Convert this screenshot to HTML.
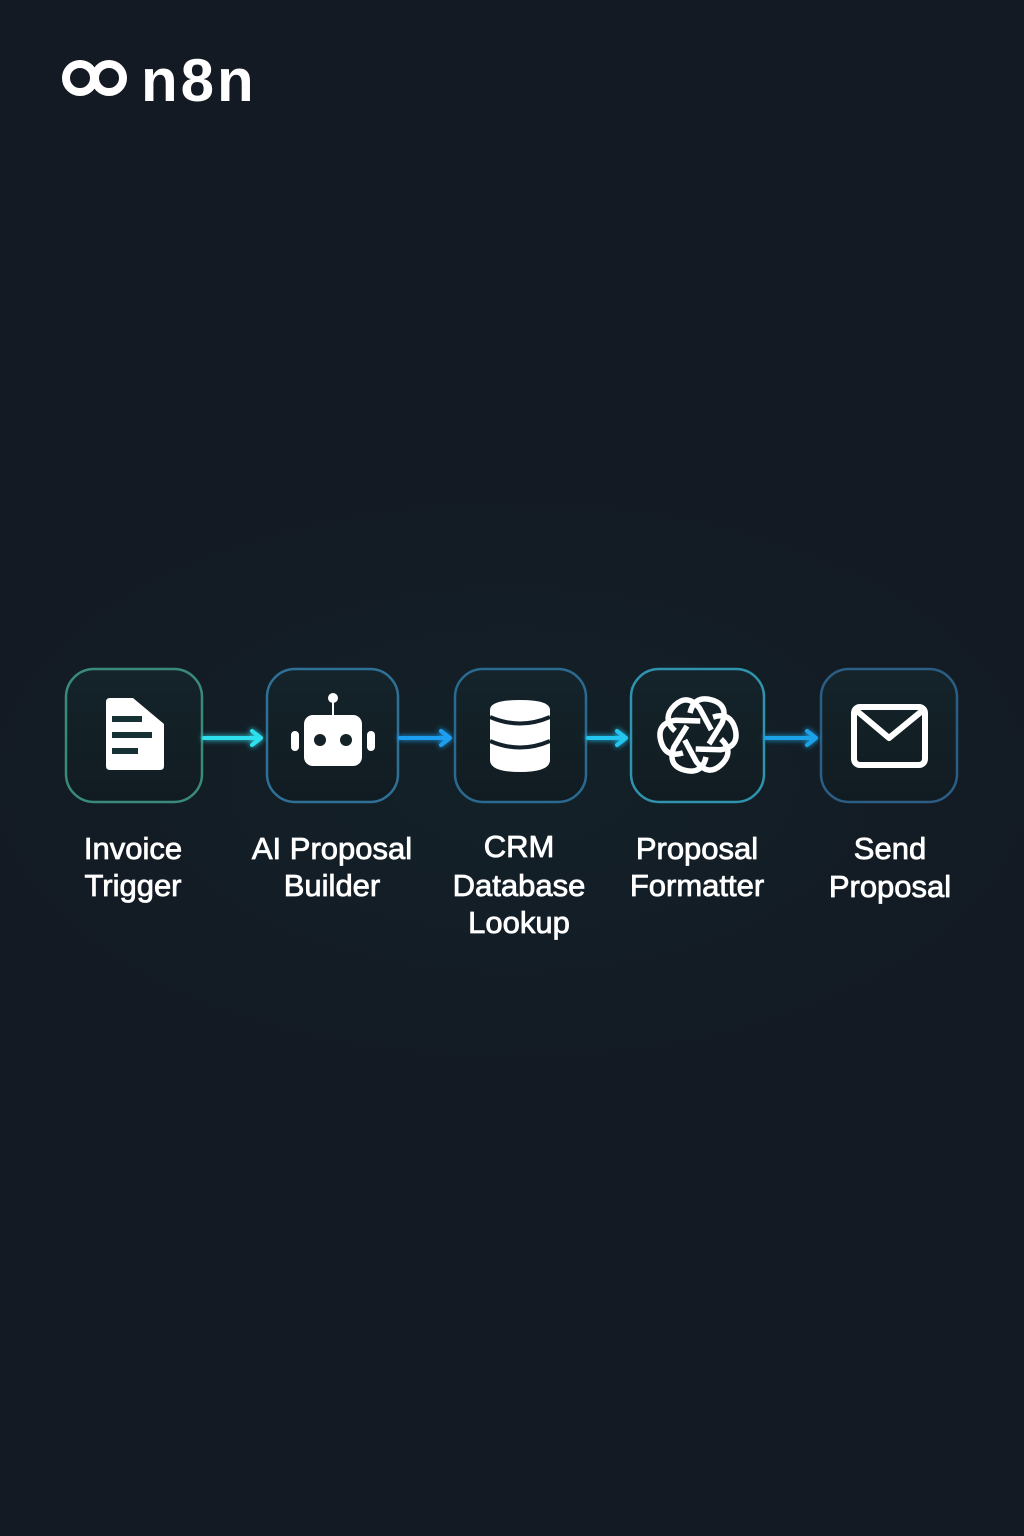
<!DOCTYPE html>
<html><head><meta charset="utf-8"><style>
html,body{margin:0;padding:0;background:#131a23;}
svg{display:block}
</style></head><body>
<svg width="1024" height="1536" viewBox="0 0 1024 1536" xmlns="http://www.w3.org/2000/svg">
<defs>
<radialGradient id="bg" cx="0.5" cy="0.5" r="0.5">
<stop offset="0" stop-color="#132128"/><stop offset="1" stop-color="#131a23"/>
</radialGradient>
<linearGradient id="box" x1="0" y1="0" x2="0" y2="1"><stop offset="0" stop-color="#14242a"/><stop offset="1" stop-color="#111c22"/></linearGradient>
<filter id="glow" x="-50%" y="-50%" width="200%" height="200%"><feGaussianBlur stdDeviation="3" result="b"/><feMerge><feMergeNode in="b"/><feMergeNode in="SourceGraphic"/></feMerge></filter>
</defs>
<rect width="1024" height="1536" fill="#131a23"/>
<ellipse cx="512" cy="780" rx="560" ry="300" fill="url(#bg)"/>

<!-- logo -->
<g fill="none" stroke="#fff" stroke-width="8">
<circle cx="80" cy="78" r="14"/><circle cx="109" cy="78" r="14"/>
</g>
<text x="141" y="101" font-family="Liberation Sans, sans-serif" font-weight="bold" font-size="60" letter-spacing="3" fill="#fff">n8n</text>

<!-- boxes -->
<g stroke-width="2.5" fill="url(#box)">
<rect x="66" y="669" width="136" height="133" rx="28" stroke="#3a8a79"/>
<rect x="267" y="669" width="131" height="133" rx="28" stroke="#2f7096"/>
<rect x="455" y="669" width="131" height="133" rx="28" stroke="#2b6a90"/>
<rect x="631" y="669" width="133" height="133" rx="28" stroke="#2f93ad"/>
<rect x="821" y="669" width="136" height="133" rx="28" stroke="#2c5e85"/>
</g>

<!-- arrows -->
<g filter="url(#glow)" stroke-width="4" fill="none" stroke-linecap="round" stroke-linejoin="round">
<g stroke="#2ee0ee"><line x1="204" y1="738" x2="260" y2="738"/><polyline points="252,731 261,738 252,745"/></g>
<g stroke="#1d9ff0"><line x1="400" y1="738" x2="449" y2="738"/><polyline points="441,731 450,738 441,745"/></g>
<g stroke="#22c6f0"><line x1="588" y1="738" x2="625" y2="738"/><polyline points="617,731 626,738 617,745"/></g>
<g stroke="#1fa2e6"><line x1="766" y1="738" x2="815" y2="738"/><polyline points="807,731 816,738 807,745"/></g>
</g>

<!-- doc icon -->
<path d="M110 698 H133 L164 724 V766 Q164 770 160 770 H110 Q106 770 106 766 V702 Q106 698 110 698Z" fill="#fff"/>
<g fill="#173235"><rect x="112" y="716" width="30" height="6"/><rect x="112" y="732" width="40" height="6"/><rect x="112" y="748" width="26" height="6"/></g>

<!-- robot -->
<line x1="333" y1="700" x2="333" y2="716" stroke="#fff" stroke-width="2"/>
<circle cx="333" cy="698" r="5" fill="#fff"/>
<rect x="304" y="715" width="58" height="51" rx="9" fill="#fff"/>
<rect x="291" y="731" width="8" height="20" rx="4" fill="#fff"/>
<rect x="367" y="731" width="8" height="20" rx="4" fill="#fff"/>
<circle cx="320" cy="740" r="6" fill="#152228"/><circle cx="346" cy="740" r="6" fill="#152228"/>

<!-- database -->
<g fill="#fff">
<path d="M490 710 Q490 700 520 700 Q550 700 550 710 V760 Q550 772 520 772 Q490 772 490 760Z"/>
</g>
<g fill="none" stroke="#13222a" stroke-width="4">
<path d="M490 717 Q520 730 550 717"/><path d="M490 741 Q520 754 550 741"/>
</g>

<!-- openai-ish knot -->
<g fill="none" stroke="#fff" stroke-width="5.5" transform="translate(698,735)">
<g id="petal"><path d="M-8 -22 Q-4 -40 14 -35 Q31 -30 24 -12 L11 9"/></g>
<use href="#petal" transform="rotate(60)"/>
<use href="#petal" transform="rotate(120)"/>
<use href="#petal" transform="rotate(180)"/>
<use href="#petal" transform="rotate(240)"/>
<use href="#petal" transform="rotate(300)"/>
</g>

<!-- envelope -->
<rect x="854" y="707" width="71" height="58" rx="6" fill="none" stroke="#fff" stroke-width="6"/>
<polyline points="857,711 889,738 922,711" fill="none" stroke="#fff" stroke-width="6" stroke-linejoin="round"/>

<!-- labels -->
<g font-family="Liberation Sans, sans-serif" font-size="31" fill="#fff" stroke="#fff" stroke-width="0.8" text-anchor="middle">
<text x="133" y="859">Invoice</text><text x="133" y="896">Trigger</text>
<text x="332" y="859">AI Proposal</text><text x="332" y="896">Builder</text>
<text x="519" y="857">CRM</text><text x="519" y="896">Database</text><text x="519" y="933">Lookup</text>
<text x="697" y="859">Proposal</text><text x="697" y="896">Formatter</text>
<text x="890" y="859">Send</text><text x="890" y="897">Proposal</text>
</g>
</svg>
</body></html>
